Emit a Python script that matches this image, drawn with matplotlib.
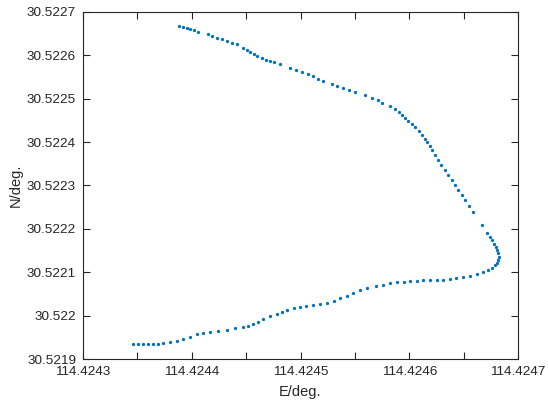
import matplotlib
matplotlib.use("Agg")
import matplotlib.pyplot as plt

# trajectory (lon, lat in degrees)
lon = [
    114.4243883, 114.4243920, 114.4243956, 114.4243984, 114.4244021, 114.4244057,
    114.4244149, 114.4244186, 114.4244232, 114.4244278, 114.4244324, 114.4244370,
    114.4244416, 114.4244471, 114.4244508, 114.4244536, 114.4244572, 114.4244600,
    114.4244646, 114.4244683, 114.4244720, 114.4244756, 114.4244811, 114.4244903,
    114.4244959, 114.4245014, 114.4245069, 114.4245115, 114.4245161, 114.4245207,
    114.4245290, 114.4245336, 114.4245391, 114.4245446, 114.4245501, 114.4245593,
    114.4245657, 114.4245713, 114.4245749, 114.4245823, 114.4245869, 114.4245906,
    114.4245933, 114.4245961, 114.4245988, 114.4246025, 114.4246053, 114.4246090,
    114.4246117, 114.4246145, 114.4246163, 114.4246191, 114.4246209, 114.4246237,
    114.4246264, 114.4246292, 114.4246329, 114.4246356, 114.4246393, 114.4246421,
    114.4246448, 114.4246485, 114.4246512, 114.4246549, 114.4246586,
    114.4246669, 114.4246715, 114.4246742, 114.4246761, 114.4246779, 114.4246798,
    114.4246807, 114.4246816, 114.4246825, 114.4246816, 114.4246807, 114.4246788,
    114.4246761, 114.4246724, 114.4246678, 114.4246623, 114.4246559, 114.4246494,
    114.4246430, 114.4246375, 114.4246310, 114.4246255, 114.4246191, 114.4246126,
    114.4246071, 114.4246007, 114.4245952, 114.4245887, 114.4245823, 114.4245759,
    114.4245694, 114.4245611, 114.4245547, 114.4245483, 114.4245428, 114.4245363,
    114.4245308, 114.4245244, 114.4245179, 114.4245115, 114.4245051, 114.4244995,
    114.4244940, 114.4244876, 114.4244830, 114.4244784, 114.4244720, 114.4244655,
    114.4244609, 114.4244563, 114.4244517, 114.4244471, 114.4244398, 114.4244324,
    114.4244241, 114.4244168, 114.4244103, 114.4244048, 114.4243984, 114.4243920,
    114.4243864, 114.4243800, 114.4243736, 114.4243690, 114.4243644, 114.4243598,
    114.4243552, 114.4243506, 114.4243460,
]
lat = [
    30.5226677, 30.5226654, 30.5226631, 30.5226608, 30.5226585, 30.5226539,
    30.5226493, 30.5226447, 30.5226401, 30.5226378, 30.5226332, 30.5226285,
    30.5226262, 30.5226170, 30.5226124, 30.5226078, 30.5226032, 30.5225986,
    30.5225940, 30.5225893, 30.5225870, 30.5225847, 30.5225801, 30.5225709,
    30.5225663, 30.5225617, 30.5225571, 30.5225525, 30.5225455, 30.5225409,
    30.5225340, 30.5225294, 30.5225248, 30.5225202, 30.5225156, 30.5225087,
    30.5225017, 30.5224971, 30.5224902, 30.5224833, 30.5224764, 30.5224695,
    30.5224625, 30.5224556, 30.5224487, 30.5224418, 30.5224349, 30.5224257,
    30.5224164, 30.5224072, 30.5224003, 30.5223911, 30.5223819, 30.5223703,
    30.5223588, 30.5223473, 30.5223357, 30.5223242, 30.5223127, 30.5223012,
    30.5222896, 30.5222781, 30.5222666, 30.5222527, 30.5222389,
    30.5222089, 30.5221905, 30.5221813, 30.5221744, 30.5221651, 30.5221582,
    30.5221513, 30.5221444, 30.5221352, 30.5221282, 30.5221213, 30.5221167,
    30.5221098, 30.5221052, 30.5221006, 30.5220960, 30.5220914, 30.5220891,
    30.5220867, 30.5220844, 30.5220821, 30.5220821, 30.5220821, 30.5220821,
    30.5220798, 30.5220798, 30.5220775, 30.5220775, 30.5220752, 30.5220706,
    30.5220683, 30.5220637, 30.5220591, 30.5220522, 30.5220452, 30.5220406,
    30.5220337, 30.5220291, 30.5220268, 30.5220245, 30.5220222, 30.5220199,
    30.5220176, 30.5220130, 30.5220084, 30.5220037, 30.5219991, 30.5219922,
    30.5219853, 30.5219807, 30.5219761, 30.5219738, 30.5219715, 30.5219669,
    30.5219646, 30.5219622, 30.5219599, 30.5219576, 30.5219507, 30.5219461,
    30.5219415, 30.5219392, 30.5219369, 30.5219346, 30.5219346, 30.5219346,
    30.5219346, 30.5219346, 30.5219346,
]

xticks = [114.4243, 114.42435, 114.4244, 114.42445, 114.4245,
          114.42455, 114.4246, 114.42465, 114.4247]
xticklabels = ['114.4243', '', '114.4244', '', '114.4245',
               '', '114.4246', '', '114.4247']
yticks = [30.5219, 30.522, 30.5221, 30.5222, 30.5223,
          30.5224, 30.5225, 30.5226, 30.5227]
yticklabels = ['30.5219', '30.522', '30.5221', '30.5222', '30.5223',
               '30.5224', '30.5225', '30.5226', '30.5227']

plt.rcParams['font.family'] = ['Liberation Sans', 'DejaVu Sans']

fig = plt.figure(figsize=(5.48, 4.03), dpi=100)
ax = fig.add_axes([83 / 548, 44 / 403, 435 / 548, 347 / 403])

ax.plot(lon, lat, linestyle='none', marker='.', markersize=2.7,
        color='#0072BD')

ax.set_xlim(114.4243, 114.4247)
ax.set_ylim(30.5219, 30.5227)
ax.set_xticks(xticks)
ax.set_xticklabels(xticklabels)
ax.set_yticks(yticks)
ax.set_yticklabels(yticklabels)

ax.tick_params(direction='in', length=5, width=0.8, top=True, right=True,
               labelsize=9.7, colors='#262626', pad=5)
for s in ax.spines.values():
    s.set_color('#262626')
    s.set_linewidth(0.8)

ax.set_xlabel('E/deg.', fontsize=10.5, color='#262626', labelpad=5)
ax.set_ylabel('N/deg.', fontsize=10.5, color='#262626', labelpad=3)

fig.savefig('out.png', dpi=100)
